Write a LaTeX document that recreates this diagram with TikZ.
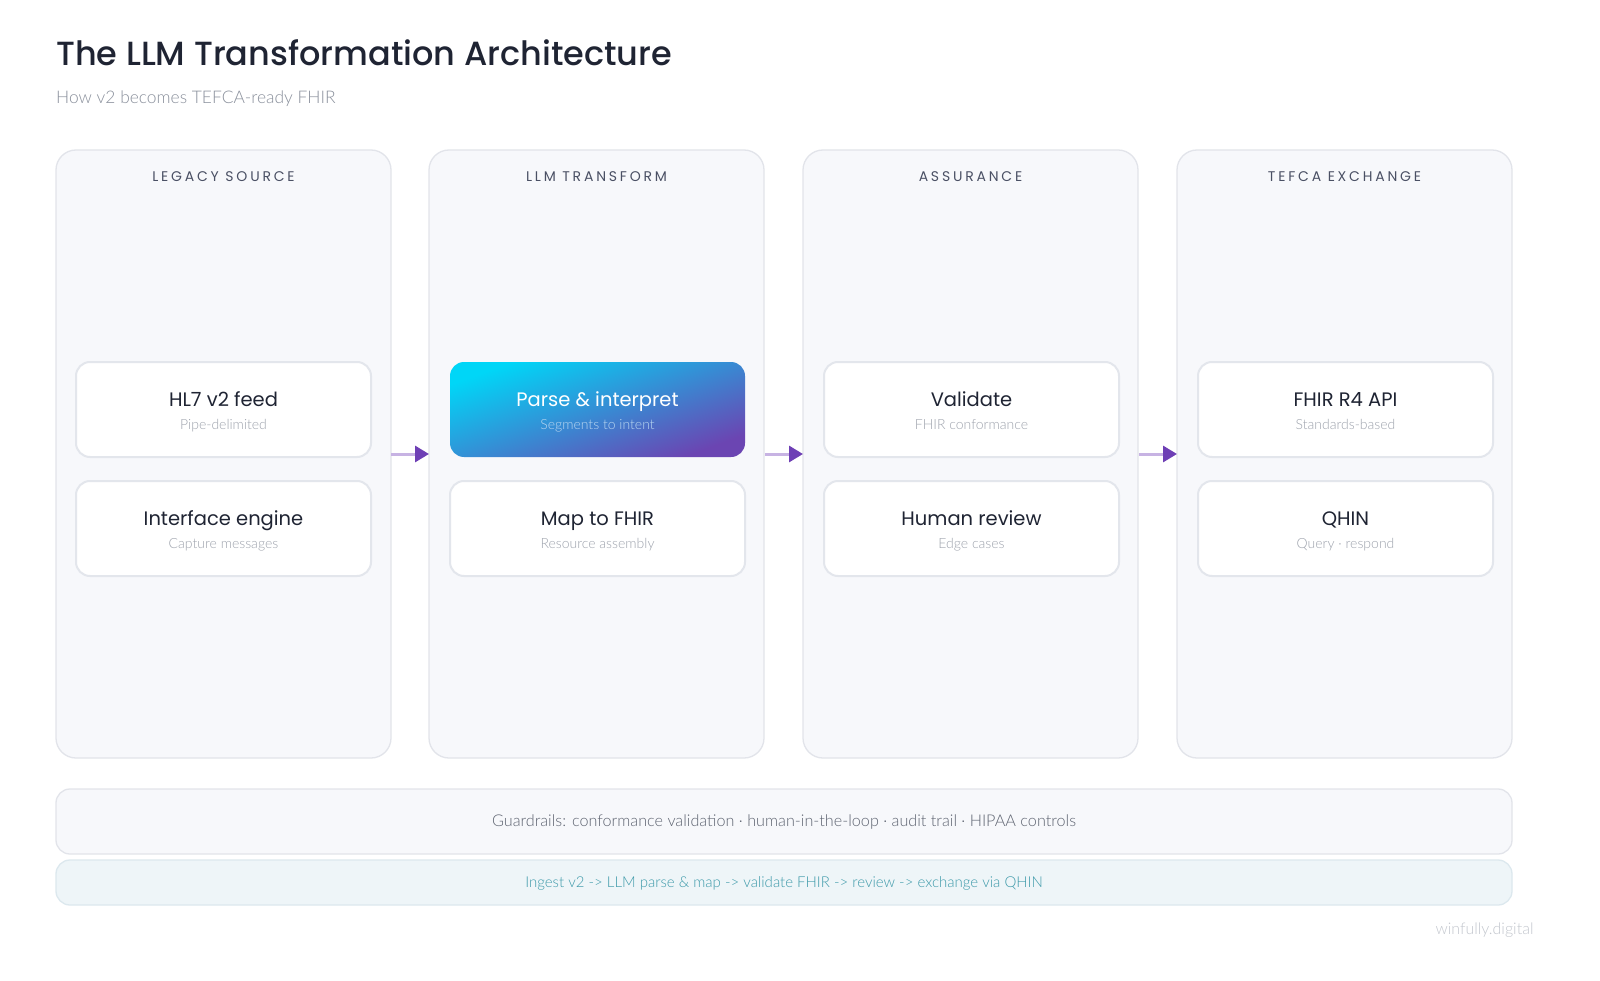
\documentclass[tikz,border=0pt]{standalone}
\usepackage{fontspec}
\usetikzlibrary{arrows.meta,shadings}
\setmainfont{Lato}
\newfontfamily\headfont{Poppins}
\newfontfamily\titlefont{Poppins}[UprightFont=* Medium]
\newfontfamily\lightfont{Lato Light}
\definecolor{titlec}{HTML}{1F2433}
\definecolor{subc}{HTML}{8A909C}
\definecolor{colfill}{HTML}{F7F8FB}
\definecolor{colline}{HTML}{E2E4EA}
\definecolor{headc}{HTML}{4A5064}
\definecolor{cardline}{HTML}{E3E6EC}
\definecolor{cardtitle}{HTML}{1F2433}
\definecolor{cardsub}{HTML}{9EA3AD}
\definecolor{arrline}{HTML}{C7B3E3}
\definecolor{arrhead}{HTML}{6E3FB5}
\definecolor{gradA}{HTML}{00D6F7}
\definecolor{gradB}{HTML}{3A8ED8}
\definecolor{gradC}{HTML}{6B45B2}
\definecolor{guardc}{HTML}{5E6471}
\definecolor{flowfill}{HTML}{EEF5F8}
\definecolor{flowline}{HTML}{DCE8EE}
\definecolor{flowtext}{HTML}{3E9AAA}
\definecolor{markc}{HTML}{C3C7CE}
\tikzset{
  colbox/.style={draw=colline,line width=1.3pt,fill=colfill,rounded corners=20pt},
  cardbox/.style={draw=cardline,line width=2pt,fill=white,rounded corners=14pt},
  hotbox/.style={rounded corners=14pt,top color=gradA,middle color=gradB,bottom color=gradC,shading angle=20},
  coltitle/.style={font=\headfont\fontsize{14}{16}\selectfont\addfontfeatures{LetterSpace=20},text=headc},
  cardt/.style={font=\headfont\fontsize{19.5}{22}\selectfont,text=cardtitle},
  cards/.style={font=\lightfont\fontsize{14}{16}\selectfont,text=cardsub},
  flowarrow/.style={draw=arrline,line width=3pt,-{Triangle[length=14pt,width=16pt,color=arrhead]}}
}
\begin{document}
\begin{tikzpicture}[x=1pt,y=-1pt]
\fill[white] (0,0) rectangle (1600,981);
\useasboundingbox (0,0) rectangle (1600,981);
\node[anchor=base west,inner sep=0,font=\titlefont\fontsize{33.5}{40}\selectfont,text=titlec] (title) at (56,66) {The LLM Transformation Architecture};
\node[anchor=base west,inner sep=0,font=\lightfont\fontsize{17.4}{22}\selectfont,text=subc] (subtitle) at (56,104) {How v2 becomes TEFCA-ready FHIR};
% columns
\foreach \i/\x/\t in {1/56/LEGACY SOURCE,2/429/LLM TRANSFORM,3/803/ASSURANCE,4/1177/TEFCA EXCHANGE}{
  \path[colbox] (\x,150) rectangle ++(335,608);
  \node[coltitle,inner sep=0,anchor=base] (h\i) at (\x+167.5,182) {\t};
}
% cards
\newcommand\mycard[6]{%
  \path[#6] (#2,#3) rectangle ++(295,95);
  \node[cardt,inner sep=0,anchor=base] (#1t) at (#2+147.5,#3+44) {#4};
  \node[cards,inner sep=0,anchor=base] (#1s) at (#2+147.5,#3+67) {#5};
}
\mycard{a1}{76}{362}{HL7 v2 feed}{Pipe-delimited}{cardbox}
\mycard{a2}{76}{481}{Interface engine}{Capture messages}{cardbox}
\mycard{b1}{450}{362}{\color{white}Parse \& interpret}{\color{white!65!gradB}Segments to intent}{hotbox}
\mycard{b2}{450}{481}{Map to FHIR}{Resource assembly}{cardbox}
\mycard{c1}{824}{362}{Validate}{FHIR conformance}{cardbox}
\mycard{c2}{824}{481}{Human review}{Edge cases}{cardbox}
\mycard{d1}{1198}{362}{FHIR R4 API}{Standards-based}{cardbox}
\mycard{d2}{1198}{481}{QHIN}{Query · respond}{cardbox}
% arrows
\coordinate (e1) at (391,454); \coordinate (s2) at (429,454);
\coordinate (e2) at (765,454); \coordinate (s3) at (803,454);
\coordinate (e3) at (1139,454); \coordinate (s4) at (1177,454);
\draw[flowarrow] (e1) -- (s2);
\draw[flowarrow] (e2) -- (s3);
\draw[flowarrow] (e3) -- (s4);
% guardrails
\path[draw=colline,line width=1.3pt,fill=colfill,rounded corners=14pt] (56,789) rectangle (1512,854);
\node[font=\lightfont\fontsize{16.2}{20}\selectfont,text=guardc] (guard) at (784,822) {Guardrails: conformance validation · human-in-the-loop · audit trail · HIPAA controls};
\path[draw=flowline,line width=1.3pt,fill=flowfill,rounded corners=14pt] (56,860) rectangle (1512,905);
\node[font=\lightfont\fontsize{15}{20}\selectfont,text=flowtext] (flow) at (784,883) {Ingest v2 -> LLM parse \& map -> validate FHIR -> review -> exchange via QHIN};
\node[font=\lightfont\fontsize{16}{20}\selectfont,text=markc,anchor=east] (mark) at (1537,930) {winfully.digital};
\end{tikzpicture}
\end{document}
